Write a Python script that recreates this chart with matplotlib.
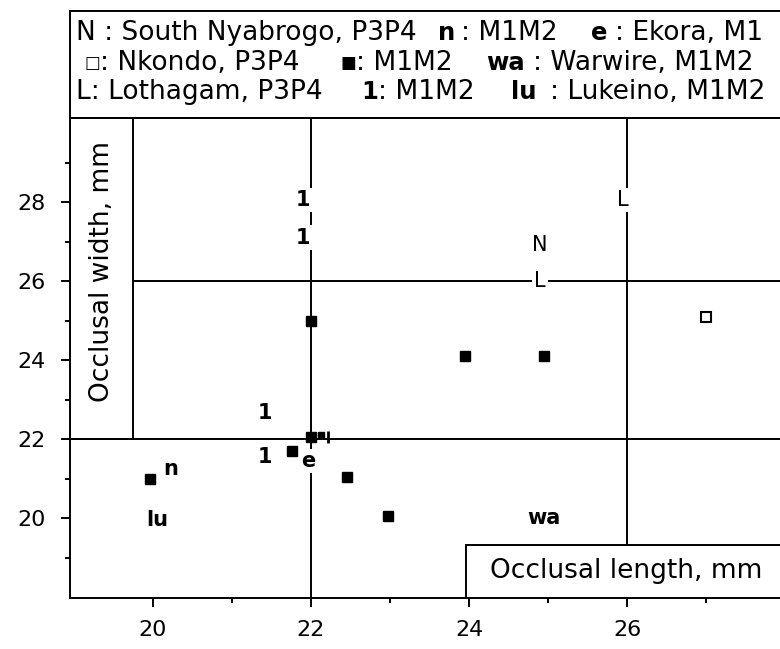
import numpy as np
import matplotlib
matplotlib.use('Agg')
import matplotlib.pyplot as plt
from matplotlib.patches import Rectangle

# filled squares: Nkondo M1M2
nk_m1m2_x = [22.0, 23.95, 24.95, 22.0, 21.76, 22.45, 22.97, 19.96]
nk_m1m2_y = [25.0, 24.1, 24.1, 22.05, 21.7, 21.05, 20.05, 21.0]
# small square + tick beside (22, 22)
nk_small_x = [22.13]
nk_small_y = [22.1]
tick_x = [22.22]
tick_y = [22.05]
# open square: Nkondo P3P4
nk_p3p4_x = [27.0]
nk_p3p4_y = [25.1]

# letter symbols (label, x, y, bold)
letters = [
    ('N', 24.9, 26.9, False),
    ('L', 24.9, 26.0, False),
    ('L', 25.95, 28.05, False),
    ('1', 21.9, 28.05, True),
    ('1', 21.9, 27.1, True),
    ('1', 21.42, 22.65, True),
    ('1', 21.42, 21.55, True),
    ('n', 20.22, 21.25, True),
    ('e', 21.97, 21.45, True),
    ('lu', 20.06, 19.95, True),
    ('wa', 24.95, 20.0, True),
]

xticks = [20, 22, 24, 26]
yticks = [20, 22, 24, 26, 28]

W, H = 780, 649
fig = plt.figure(figsize=(7.8, 6.49), dpi=100)

# axes from px x=70..790, y=118..598
ax = fig.add_axes([70 / W, (H - 598) / H, (790 - 70) / W, (598 - 118) / H])
x0 = 20 + (70 - 153) / 79.0
x1 = 20 + (790 - 153) / 79.0
y0 = 20 - (598 - 518) / 39.5
y1 = 20 - (118 - 518) / 39.5
ax.set_xlim(x0, x1)
ax.set_ylim(y0, y1)

lw = 1.4
for s in ['left', 'bottom', 'top']:
    ax.spines[s].set_linewidth(lw)
ax.spines['right'].set_visible(False)

ax.set_xticks(xticks)
ax.set_yticks(yticks)
ax.set_xticks([21, 23, 25, 27], minor=True)
ax.set_yticks([19, 21, 23, 25, 27, 29], minor=True)
ax.tick_params(which='major', direction='out', length=6.5, width=lw, labelsize=16, pad=11)
ax.tick_params(which='minor', direction='out', length=3.5, width=lw)
ax.tick_params(axis='x', which='major', pad=9)

# reference lines
ax.axhline(22, color='black', lw=lw, zorder=1)
ax.plot([19.75, x1], [26, 26], color='black', lw=lw, zorder=1)
ax.axvline(22, color='black', lw=lw, zorder=1)
ax.plot([26, 26], [19.32, y1], color='black', lw=lw, zorder=1)

# y label box
ax.add_patch(Rectangle((x0, 22), 19.75 - x0, y1 - 22, fill=False, lw=lw, ec='black', zorder=1))
ax.text(19.35, 26.23, 'Occlusal width, mm', rotation=90, ha='center', va='center', fontsize=19)

# x label box
ax.add_patch(Rectangle((23.96, y0), x1 - 23.96 + 1, 19.32 - y0, fill=True, fc='white', lw=lw, ec='black', zorder=3))
ax.text(25.99, 18.66, 'Occlusal length, mm', ha='center', va='center', fontsize=19, zorder=4)

# points
ax.plot(nk_m1m2_x, nk_m1m2_y, 's', color='black', ms=7, zorder=5)
ax.plot(nk_small_x, nk_small_y, 's', color='black', ms=5, zorder=5)
ax.plot(tick_x, tick_y, '|', color='black', ms=9, mew=2, zorder=5)
ax.plot(nk_p3p4_x, nk_p3p4_y, 's', mfc='white', mec='black', mew=1.5, ms=7, zorder=5)

for lab, x, y, b in letters:
    ax.text(x, y, lab, ha='center', va='center', fontsize=15,
            fontweight='bold' if b else 'normal', zorder=4,
            bbox=dict(boxstyle='square,pad=0.1', fc='white', ec='none'))

# legend box at top
fig.patches.append(Rectangle((70 / W, (H - 118) / H), 1.0, (118 - 11) / H, fill=False,
                             lw=lw, ec='black', transform=fig.transFigure, figure=fig))

def ftxt(px, py, s, bold=False, size=19):
    fig.text(px / W, (H - py) / H, s, ha='left', va='center', fontsize=size,
             fontweight='bold' if bold else 'normal')

ftxt(76, 33, 'N : South Nyabrogo, P3P4')
ftxt(438, 33, 'n', True, 17.5)
ftxt(461, 33, ': M1M2')
ftxt(591, 33, 'e', True, 17.5)
ftxt(615, 33, ': Ekora, M1')

ftxt(84, 63, '\u25a1', size=12)
ftxt(100, 63, ': Nkondo, P3P4')
ftxt(340, 63, '\u25a0', size=12)
ftxt(356, 63, ': M1M2')
ftxt(486, 63, 'wa', True, 17.5)
ftxt(533, 63, ': Warwire, M1M2')

ftxt(76, 92, 'L: Lothagam, P3P4')
ftxt(361, 92, '1', True, 17.5)
ftxt(378, 92, ': M1M2')
ftxt(511, 92, 'lu', True, 17.5)
ftxt(550, 92, ': Lukeino, M1M2')

fig.savefig('out.png', dpi=100)
